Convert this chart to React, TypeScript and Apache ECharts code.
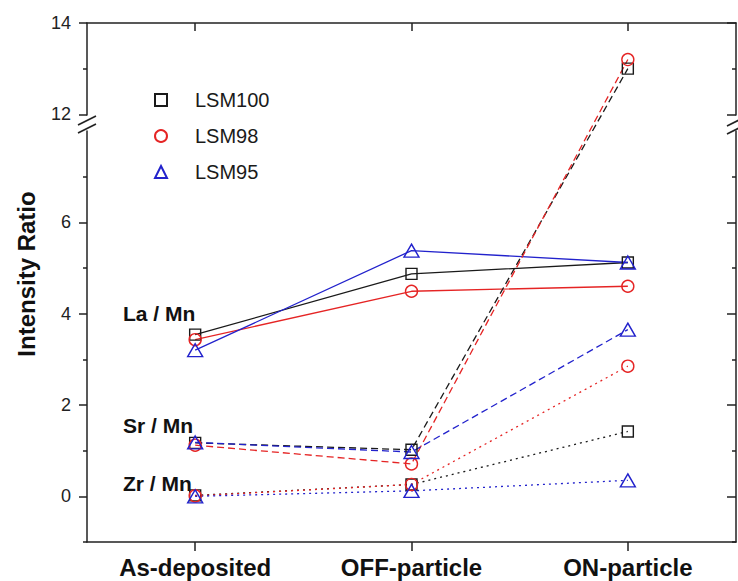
import React, { useEffect, useRef } from 'react';
import * as echarts from 'echarts';

const categories = ['As-deposited', 'OFF-particle', 'ON-particle'];
const sampleNames = ['LSM100', 'LSM98', 'LSM95'];

const laMnLSM100 = [3.54, 4.87, 5.12];
const laMnLSM98 = [3.43, 4.49, 4.6];
const laMnLSM95 = [3.2, 5.38, 5.12];

const srMnLSM100 = [1.17, 1.02, 13.0];
const srMnLSM98 = [1.12, 0.71, 13.2];
const srMnLSM95 = [1.18, 0.97, 3.65];

const zrMnLSM100 = [0.02, 0.26, 1.42];
const zrMnLSM98 = [0.01, 0.26, 2.85];
const zrMnLSM95 = [0.0, 0.12, 0.35];

const majorTicks = [0, 2, 4, 6, 12, 14];
const minorTicks = [-1, 1, 3, 5, 7, 13];
const yMin = -1;
const yMax = 14;
const breakStart = 8;
const breakEnd = 12;

const ratioLabels = ['La / Mn', 'Sr / Mn', 'Zr / Mn'];

const FONT = '"Liberation Sans", Arial, Helvetica, sans-serif';
const AXIS = '#222';
const COLORS: Record<string, string> = { LSM100: '#1a1a1a', LSM98: '#e52424', LSM95: '#2222cc' };
const SYMBOLS: Record<string, string> = { LSM100: 'rect', LSM98: 'circle', LSM95: 'triangle' };
const SIZES: Record<string, number | number[]> = { LSM100: 11, LSM98: 12, LSM95: [15, 13] };

export default function App() {
  const ref = useRef<HTMLDivElement>(null);
  useEffect(() => {
    if (!ref.current) return;
    const chart = echarts.init(ref.current, undefined, { renderer: 'svg' });

    const groups = [
      { data: [laMnLSM100, laMnLSM98, laMnLSM95], dash: 'solid' as any },
      { data: [srMnLSM100, srMnLSM98, srMnLSM95], dash: [7, 4] },
      { data: [zrMnLSM100, zrMnLSM98, zrMnLSM95], dash: [2, 4] },
    ];
    const series: any[] = [];
    groups.forEach((g) => {
      sampleNames.forEach((name, i) => {
        series.push({
          type: 'line',
          name,
          data: g.data[i],
          xAxisIndex: 0,
          yAxisIndex: 0,
          symbol: SYMBOLS[name],
          symbolSize: SIZES[name],
          showAllSymbol: true,
          clip: false,
          lineStyle: { color: COLORS[name], width: 1.3, type: g.dash },
          itemStyle: { color: 'transparent', borderColor: COLORS[name], borderWidth: 1.4 },
          emphasis: { disabled: true },
        });
      });
    });

    const yBase = {
      type: 'value',
      min: yMin,
      max: yMax,
      breaks: [{ start: breakStart, end: breakEnd, gap: '3.2%' }],
      breakArea: { show: false },
      splitLine: { show: false },
    };

    const breakMark = (x: number, y: number) => [
      { type: 'polygon', shape: { points: [[x - 6, y + 4], [x + 6, y - 3], [x + 6, y + 5], [x - 6, y + 12]] }, style: { fill: '#fff' }, z: 100 },
      { type: 'line', shape: { x1: x - 9, y1: y + 5, x2: x + 9, y2: y - 4 }, style: { stroke: AXIS, lineWidth: 1.6 }, z: 101 },
      { type: 'line', shape: { x1: x - 9, y1: y + 13, x2: x + 9, y2: y + 4 }, style: { stroke: AXIS, lineWidth: 1.6 }, z: 101 },
    ];

    chart.setOption({
      animation: false,
      backgroundColor: '#fff',
      textStyle: { fontFamily: FONT },
      grid: { left: 87, right: 2, top: 23, bottom: 39, containLabel: false },
      legend: {
        orient: 'vertical',
        left: 149,
        top: 85,
        itemWidth: 12,
        itemHeight: 12,
        itemGap: 16,
        selectedMode: false,
        textStyle: { fontFamily: FONT, fontSize: 20, lineHeight: 20, color: '#1a1a1a', padding: [0, 0, 0, 23] },
        data: sampleNames.map((n) => ({ name: n, icon: SYMBOLS[n] })),
      },
      xAxis: [
        {
          type: 'category',
          data: categories,
          boundaryGap: true,
          position: 'bottom',
          axisLine: { onZero: false, lineStyle: { color: AXIS, width: 1.5 } },
          axisTick: { show: true, alignWithLabel: true, length: 9, lineStyle: { color: AXIS, width: 1.5 } },
          axisLabel: { fontFamily: FONT, fontSize: 24, fontWeight: 'bold', color: '#111', margin: 13, interval: 0 },
        },
        {
          type: 'category',
          data: categories,
          boundaryGap: true,
          position: 'top',
          axisLine: { onZero: false, lineStyle: { color: AXIS, width: 1.5 } },
          axisTick: { show: true, inside: true, alignWithLabel: true, length: 8, lineStyle: { color: AXIS, width: 1.5 } },
          axisLabel: { show: false },
        },
      ],
      yAxis: [
        {
          ...yBase,
          position: 'left',
          axisLine: { show: true, onZero: false, lineStyle: { color: AXIS, width: 1.5 } },
          axisTick: { show: true, length: 8, customValues: majorTicks, lineStyle: { color: AXIS, width: 1.5 } },
          axisLabel: { show: true, customValues: majorTicks, fontFamily: FONT, fontSize: 18, color: '#222', margin: 16 },
        },
        {
          ...yBase,
          position: 'left',
          axisLine: { show: false, onZero: false },
          axisTick: { show: true, length: 4, customValues: minorTicks, lineStyle: { color: AXIS, width: 1.5 } },
          axisLabel: { show: false },
        },
        {
          ...yBase,
          position: 'right',
          axisLine: { show: true, onZero: false, lineStyle: { color: AXIS, width: 1.5 } },
          axisTick: { show: true, inside: true, length: 9, customValues: majorTicks, lineStyle: { color: AXIS, width: 1.5 } },
          axisLabel: { show: false },
        },
        {
          ...yBase,
          position: 'right',
          axisLine: { show: false, onZero: false },
          axisTick: { show: true, inside: true, length: 4, customValues: minorTicks, lineStyle: { color: AXIS, width: 1.5 } },
          axisLabel: { show: false },
        },
      ],
      graphic: [
        {
          type: 'text',
          x: 26,
          y: 274,
          rotation: Math.PI / 2,
          style: { text: 'Intensity Ratio', font: `bold 24px ${FONT}`, fill: '#111', align: 'center', verticalAlign: 'middle' },
        },
        {
          type: 'text', x: 123, y: 313,
          style: { text: ratioLabels[0], font: `bold 21px ${FONT}`, fill: '#111', align: 'left', verticalAlign: 'middle' },
        },
        {
          type: 'text', x: 123, y: 425,
          style: { text: ratioLabels[1], font: `bold 21px ${FONT}`, fill: '#111', align: 'left', verticalAlign: 'middle' },
        },
        {
          type: 'text', x: 123, y: 483,
          style: { text: ratioLabels[2], font: `bold 21px ${FONT}`, fill: '#111', align: 'left', verticalAlign: 'middle' },
        },
        ...breakMark(87, 120),
        ...breakMark(736, 121),
      ],
      series,
    });
    return () => chart.dispose();
  }, []);
  return <div ref={ref} style={{ position: 'absolute', left: 0, top: 0, width: 738, height: 581 }} />;
}
